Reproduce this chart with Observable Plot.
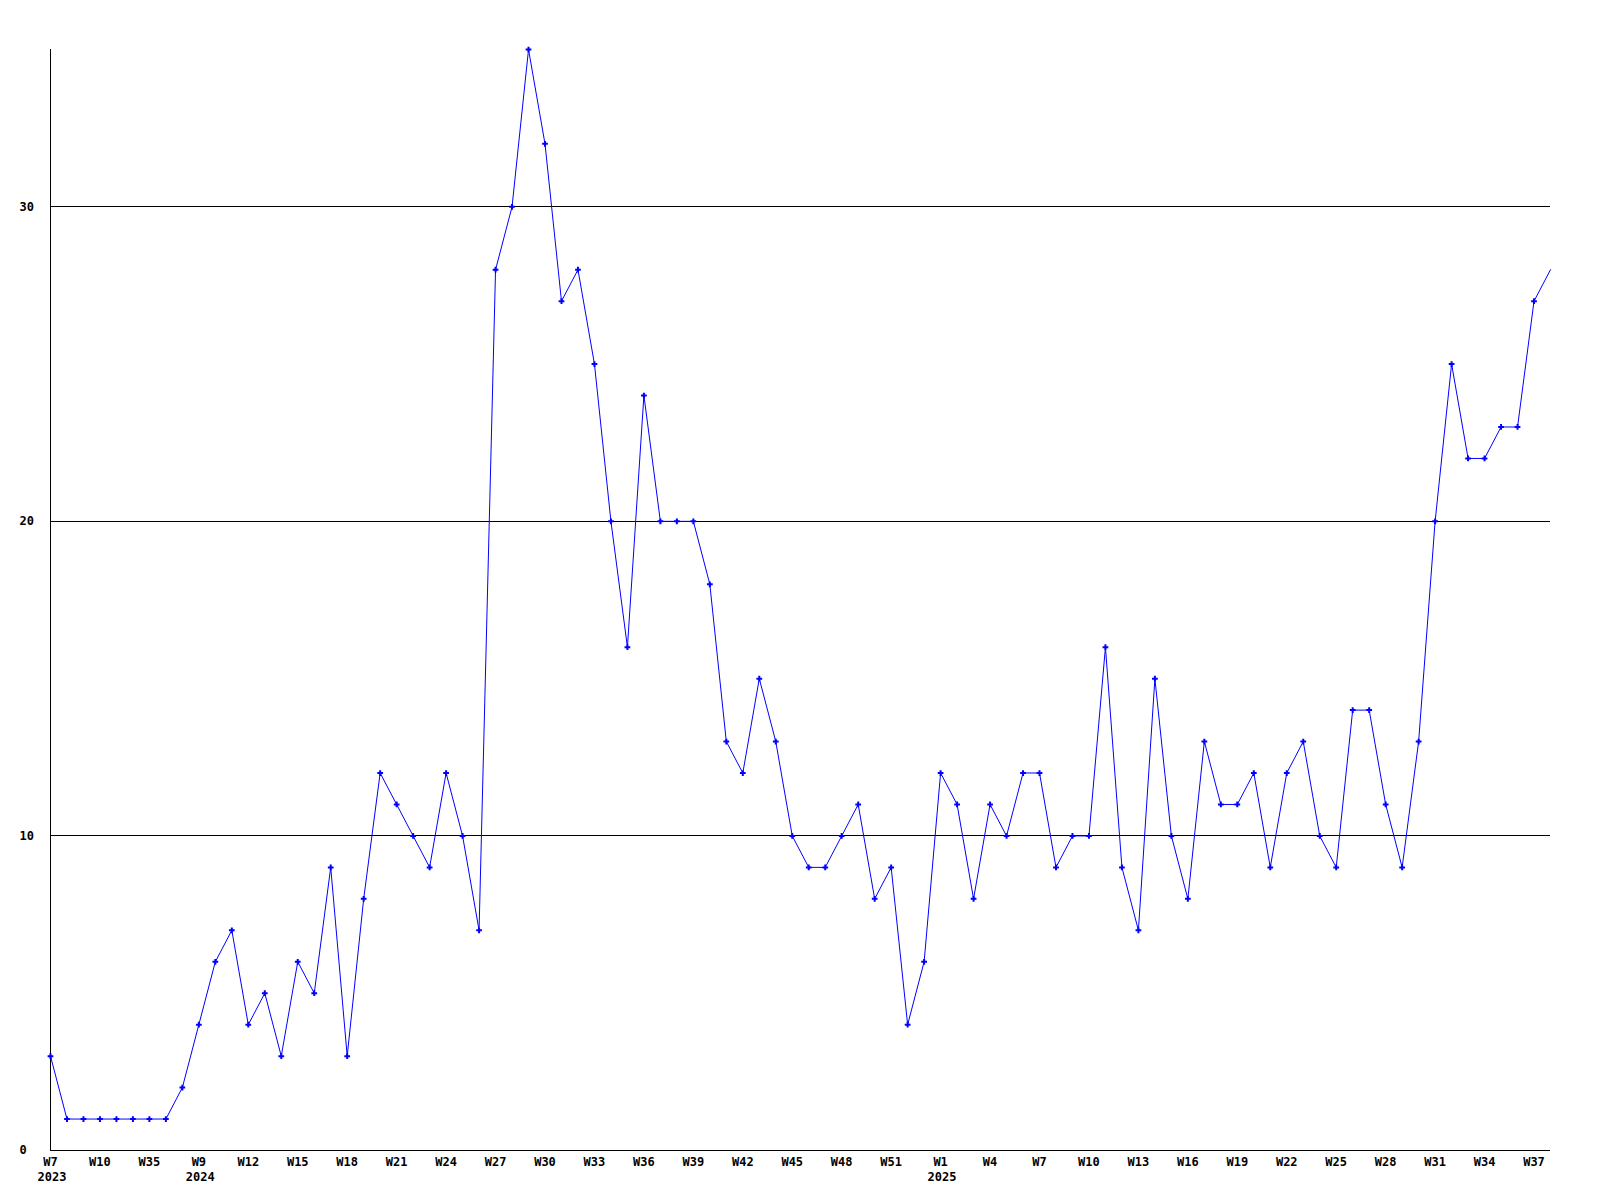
<!DOCTYPE html>
<html>
<head>
<meta charset="utf-8">
<script src="https://cdn.jsdelivr.net/npm/d3@7"></script>
<script src="https://cdn.jsdelivr.net/npm/@observablehq/plot@0.6"></script>
<style>
  html, body { margin: 0; padding: 0; background: #ffffff; }
  #chart svg { display: block; }
</style>
</head>
<body>
<div id="chart"></div>
<script>
// Week labels, one per data point (labels 4,5,7,8 are hidden in the picture)
const weeks2023 = ["W7","W8","W9","W10","W33","W34","W35","W36","W37"];
const weeks2024 = d3.range(9, 54).map(w => "W" + w);
const weeks2025 = d3.range(1, 39).map(w => "W" + w);
const weeks = [...weeks2023, ...weeks2024, ...weeks2025];

// Year labels shown under the first labelled week of each year
const yearIndex = [0, 9, 54];
const yearText = ["2023", "2024", "2025"];

// Weekly values
const counts = [
  3,1,1,1,1,1,1,1,2,4,
  6,7,4,5,3,6,5,9,3,8,
  12,11,10,9,12,10,7,28,30,35,
  32,27,28,25,20,16,24,20,20,20,
  18,13,12,15,13,10,9,9,10,11,
  8,9,4,6,12,11,8,11,10,12,
  12,9,10,10,16,9,7,15,10,8,
  13,11,11,12,9,12,13,10,9,14,
  14,11,9,13,20,25,22,22,23,23,
  27,28
];

// Y tick values and grid lines
const yTicks = [0, 10, 20, 30];
const gridValues = [10, 20, 30];

const data = counts.map((v, i) => ({i, v}));
const xTicks = d3.range(0, counts.length, 3);
const years = yearIndex.map((i, k) => ({i, year: yearText[k]}));

const chart = Plot.plot({
  width: 1600,
  height: 1200,
  marginLeft: 50,
  marginRight: 50,
  marginTop: 49,
  marginBottom: 50,
  style: {
    fontFamily: "'DejaVu Sans Mono', monospace",
    fontSize: "12px",
    fontWeight: "bold",
    background: "#ffffff",
    color: "#000000"
  },
  x: {type: "point", domain: d3.range(counts.length), padding: 0, axis: null},
  y: {domain: [0, 35], axis: null},
  marks: [
    Plot.ruleY(gridValues, {stroke: "#000000", strokeWidth: 1, shapeRendering: "crispEdges"}),
    Plot.ruleY([0], {stroke: "#000000", strokeWidth: 1, shapeRendering: "crispEdges"}),
    Plot.ruleX([0], {stroke: "#000000", strokeWidth: 1, shapeRendering: "crispEdges"}),
    Plot.axisY({
      ticks: yTicks, tickSize: 0, tickPadding: 31, textAnchor: "start",
      tickFormat: d => String(d), fill: "#000000", label: null
    }),
    Plot.axisX({
      ticks: xTicks, tickSize: 0, tickPadding: 7,
      tickFormat: i => weeks[i], fill: "#000000", label: null
    }),
    Plot.text(years, {
      x: "i", text: "year", frameAnchor: "bottom", lineAnchor: "top",
      dy: 22, dx: -13, textAnchor: "start", fill: "#000000"
    }),
    Plot.line(data, {x: "i", y: "v", stroke: "#0000ff", strokeWidth: 1}),
    Plot.dot(data.slice(0, counts.length - 1), {
      x: "i", y: "v", symbol: "plus", r: 2, stroke: "#0000ff", strokeWidth: 2
    })
  ]
});

document.getElementById("chart").appendChild(chart);
</script>
</body>
</html>
